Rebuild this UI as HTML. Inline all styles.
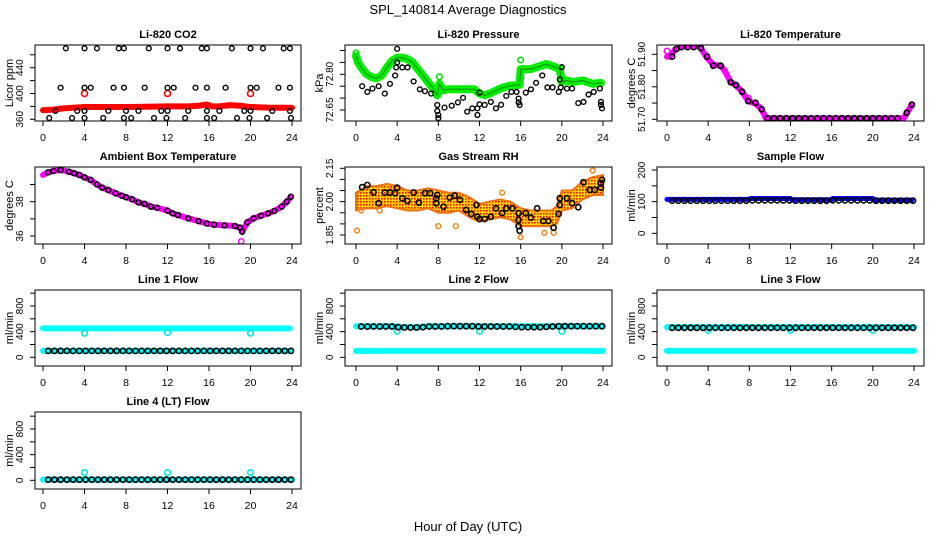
<!DOCTYPE html>
<html><head><meta charset="utf-8"><style>
html,body{margin:0;padding:0;background:#fff;}
svg{display:block;font-family:"Liberation Sans",Arial,sans-serif;}
</style></head><body>
<svg id="c" width="936" height="540" viewBox="0 0 936 540" xmlns="http://www.w3.org/2000/svg">
<defs>
<pattern id="rhpat" width="3" height="3" patternUnits="userSpaceOnUse">
<rect width="3" height="3" fill="#ffd400"/><rect width="1.6" height="1.6" fill="#f01010"/>
</pattern>
</defs>
<text x="468" y="14" font-size="13" text-anchor="middle">SPL_140814  Average Diagnostics</text>
<text x="468" y="531" font-size="13" text-anchor="middle">Hour of Day (UTC)</text>
</svg>
<script>
// ---- data ----
const xTicks=[0,4,8,12,16,20,24];
// CO2
const co2BandT=[0,1,2,4,6,8,10,12,14,15,15.8,16.3,17,18,19,20,22,24];
const co2BandV=[374,375,377,379,379,379,379.5,380,380,381,383,380,380,382,381,379,378,378];
const co2RedOutT=[4,12,20];
const co2RedOutV=[400,400,400];
const co2BlackT=[2.2,4,5.2,7.3,7.8,10.2,12,13.2,15.3,15.8,18.2,20,21.2,23.2,23.8,
 1.7,4,4.6,6.8,7.8,9.8,12,12.6,14.7,15.8,17.6,20,20.6,22.7,23.8,
 1.2,3.3,4,6.3,8,9.2,11.4,12,14,15.8,17,19.4,20,22.1,23.8,
 0.6,2.8,4,5.8,7.8,8.5,10.7,11.9,13.7,15.8,16.5,18.7,19.9,21.6,23.9];
const co2BlackV=[470,470,470,470,470,470,470,470,470,470,470,470,470,470,470,
 409,409,409,409,409,409,409,409,409,409,409,409,409,409,409,
 373,373,373,373,373,373,373,373,373,373,373,373,373,373,373,
 362,362,362,362,362,362,362,362,362,362,362,362,362,362,362];
// Pressure
const prT=[0,0.2,0.5,1,1.5,2,2.5,3,3.5,4,4.5,5,5.5,6,6.5,7,7.5,7.9,8.1,8.5,9,10,11,11.5,12,12.5,13,14,15,15.9,16,17,18,18.5,19,19.8,20,20.5,21,22,23,23.8];
const prV=[72.877,72.85,72.829,72.802,72.788,72.783,72.795,72.829,72.857,72.870,72.870,72.864,72.850,72.822,72.795,72.767,72.740,72.712,72.760,72.733,72.737,72.737,72.737,72.737,72.719,72.712,72.719,72.740,72.753,72.756,72.822,72.822,72.836,72.843,72.836,72.822,72.767,72.774,72.767,72.774,72.76,72.764];
const prGreenOutT=[0,16,8.1];
const prGreenOutV=[72.89,72.86,72.79];
const prBlackT=[0.6,1.1,1.6,2.2,2.8,3.3,3.8,3.9,4,4,4.5,5,5.6,6.2,6.7,7.3,7.9,7.9,8,8,8.6,9.3,9.9,10.4,10.8,11.3,11.8,11.8,12,12,12.5,13.1,13.6,14.1,14.6,15.1,15.6,15.8,15.8,15.9,16.5,17,17.5,18.1,18.6,19.1,19.7,19.8,20,19.9,20.5,21,21.6,22.1,22.6,23.1,23.7,23.8,23.8,23.9];
const prBlackV=[72.750,72.726,72.740,72.750,72.719,72.760,72.795,72.829,72.850,72.907,72.829,72.829,72.770,72.737,72.729,72.719,72.671,72.646,72.629,72.616,72.660,72.668,72.682,72.701,72.643,72.657,72.657,72.629,72.723,72.674,72.671,72.684,72.657,72.672,72.709,72.726,72.726,72.698,72.682,72.671,72.723,72.737,72.764,72.795,72.745,72.745,72.726,72.778,72.830,72.745,72.740,72.740,72.679,72.684,72.715,72.726,72.740,72.684,72.671,72.657];
// Li-820 temperature
const ltT=[0,0.3,0.8,1.5,3,3.3,3.8,4.5,5.2,5.6,6.2,6.7,7.3,7.9,8.6,9.2,9.6,23,23.3,23.8];
const ltV=[51.893,51.893,51.916,51.925,51.925,51.919,51.893,51.868,51.865,51.85,51.814,51.805,51.785,51.756,51.748,51.731,51.703,51.703,51.72,51.745];
const ltPinkOutT=[0,7.9];
const ltPinkOutV=[51.91,51.765];
const ltBlackT=[0.5,0.9,1.4,2,2.6,3.3,3.9,4.5,5.2,6.2,6.7,7.3,7.9,8.6,9.2,9.8,10.4,11,11.6,12.2,12.8,13.4,14,14.6,15.2,15.8,16.4,17,17.6,18.2,18.8,19.4,20,20.6,21.2,21.8,22.4,23.3,23.8];
const ltBlackV=[51.893,51.916,51.922,51.922,51.922,51.919,51.893,51.865,51.865,51.814,51.805,51.785,51.756,51.751,51.731,51.703,51.703,51.703,51.703,51.703,51.703,51.703,51.703,51.703,51.703,51.703,51.703,51.703,51.703,51.703,51.703,51.703,51.703,51.703,51.703,51.703,51.703,51.72,51.745];
// Ambient box temperature
const abT=[0,0.5,1,1.7,2.5,3,3.5,4,4.6,5.2,5.7,6.3,7,7.6,8,8.6,9.2,9.8,10.4,11,12,12.5,13,14,15,15.8,16.5,17.5,18.5,19,19.2,19.7,20.3,21,21.7,22.3,23,23.5,23.9];
const abV=[39.56,39.71,39.79,39.85,39.75,39.66,39.56,39.42,39.27,39.01,38.82,38.68,38.49,38.35,38.26,38.14,37.96,37.87,37.71,37.65,37.48,37.32,37.22,37.03,36.87,36.73,36.66,36.62,36.58,36.49,36.25,36.80,37.03,37.18,37.32,37.46,37.71,38.0,38.29];
const abPinkOutT=[19.1];
const abPinkOutV=[35.69];
// Gas stream RH
const rhT=[0,1,2,3,4,5,6,7,8,9,10,11,12,13,14,15,16,17,18,19,19.5,20,21,22,23,24];
const rhUp=[2.04,2.07,2.07,2.08,2.07,2.05,2.05,2.06,2.05,2.04,2.04,2.02,1.99,2.00,2.01,2.00,1.97,1.96,1.96,1.96,1.98,2.05,2.05,2.09,2.11,2.12];
const rhLo=[1.96,1.97,1.97,1.98,1.97,1.96,1.96,1.97,1.95,1.95,1.96,1.93,1.91,1.92,1.93,1.92,1.89,1.89,1.89,1.89,1.90,1.96,1.97,2.01,2.03,2.03];
const rhOutT=[0.1,0.5,2.3,8,9.7,14.2,16,18.3,19.2,23,3.4];
const rhOutV=[1.87,1.96,1.96,1.89,1.89,2.04,1.84,1.86,1.86,2.14,2.05];
const rhBlackT=[0.6,1.1,1.7,2.2,2.8,3.3,3.8,4,4.5,5,5.6,6.1,6.7,7.2,7.8,7.9,7.8,8.5,9.1,9.6,10.1,10.7,11.2,11.7,11.8,12,12.5,13.1,13.6,14.2,14.6,15.2,15.8,15.8,15.8,15.9,16.5,17,17.6,18.2,18.7,19.2,19.7,19.8,19.8,20.5,21,21.6,22.1,22.7,23.2,23.8,23.8,23.9];
const rhBlackV=[2.065,2.075,2.042,1.993,2.041,2.041,2.038,2.063,2.015,2.003,2.041,1.996,2.038,2.038,2.015,2.030,1.993,1.977,2.018,2.027,2.008,1.963,1.945,1.985,1.932,1.922,1.922,1.932,1.970,1.948,1.970,1.970,1.948,1.918,1.890,1.869,1.948,1.928,1.970,1.913,1.913,1.883,1.945,1.985,2.015,2.015,1.993,1.975,2.087,2.053,2.053,2.063,2.083,2.098];
// Flows
const flowT=[0.5,1.1,1.7,2.3,2.9,3.5,4.1,4.7,5.3,5.9,6.5,7.1,7.7,8.3,8.9,9.5,10.1,10.7,11.3,11.9,12.5,13.1,13.7,14.3,14.9,15.5,16.1,16.7,17.3,17.9,18.5,19.1,19.7,20.3,20.9,21.5,22.1,22.7,23.3,23.9];
const sfBlackV=[103,103,103,103,103,103,103,103,103,103,103,103,103,104,104,104,104,104,104,104,103,103,103,103,103,103,104,104,104,104,104,104,104,103,103,103,103,103,103,103];
const sfBlueT=[0,8,8.1,12,12.1,16,16.1,20,20.1,23.8];
const sfBlueV=[107,107,110,110,106,106,110,110,105,105];
const l1BlackV=[100,100,100,100,100,100,100,100,100,100,100,100,100,100,100,100,100,100,100,100,100,100,100,100,100,100,100,100,100,100,100,100,100,100,100,100,100,100,100,100];
const l1CyanT=[0,23.8];
const l1CyanHi=[452,452];
const l1CyanLo=[100,100];
const l1CyanOutT=[4,12,20];
const l1CyanOutV=[375,385,375];
const l2BlackV=[480,480,480,480,480,480,470,465,465,465,470,480,480,480,485,485,485,485,485,480,480,480,480,480,480,475,470,470,470,470,475,480,485,485,485,485,485,485,485,485];
const l2CyanT=[0,4,4.1,6.5,6.6,24];
const l2CyanHi=[485,485,470,470,485,485];
const l2CyanLo=[100,100,100,100,100,100];
const l2CyanOutT=[4,12,20];
const l2CyanOutV=[405,405,405];
const l3BlackV=[460,460,460,460,460,460,460,460,460,460,460,460,460,460,460,460,460,460,460,460,460,460,460,460,460,460,460,460,460,460,460,460,460,460,460,460,460,460,460,460];
const l3CyanT=[0,24];
const l3CyanHi=[470,470];
const l3CyanLo=[100,100];
const l3CyanOutT=[4,12,20];
const l3CyanOutV=[420,420,420];
const l4BlackV=[10,10,10,10,10,10,10,10,10,10,10,10,10,10,10,10,10,10,10,10,10,10,10,10,10,10,10,10,10,10,10,10,10,10,10,10,10,10,10,10];
const l4CyanT=[0,24];
const l4CyanV=[10,10];
const l4CyanOutT=[4,12,20];
const l4CyanOutV=[120,120,120];

// ---- layout ----
const NS='http://www.w3.org/2000/svg';
const svg=document.getElementById('c');
const boxL=[35,345,657], boxR=[301,612,924], px0=[43,356,667], px24=[292,603,914];
const rowT=[45,167,290,412], rowB=[121,244,366,489];
function mk(tag,attrs,parent){const e=document.createElementNS(NS,tag);for(const k in attrs)e.setAttribute(k,attrs[k]);(parent||svg).appendChild(e);return e;}

function panel(col,row,name,title,ylab,ticks,labels,labelText,ref){
  const g=mk('g',{});
  
  
  const L=boxL[col],R=boxR[col],T=rowT[row],B=rowB[row];
  const X=t=>px0[col]+(px24[col]-px0[col])*t/24;
  const Y=v=>ref[1]+(v-ref[0])*(ref[3]-ref[1])/(ref[2]-ref[0]);
  const cp='cp'+col+row;
  const c=mk('clipPath',{id:cp},g);mk('rect',{x:L,y:T,width:R-L,height:B-T},c);
  const plot=mk('g',{'clip-path':'url(#'+cp+')'},g);
  const box=mk('rect',{x:L,y:T,width:R-L,height:B-T,fill:'none',stroke:'#000','stroke-width':1},g);
  
  
  const tt=mk('text',{x:(L+R)/2,y:T-7,'font-size':11,'font-weight':'bold','text-anchor':'middle'},g);
  tt.textContent=title;
  
  
  const yl=mk('text',{transform:`translate(${L-22},${(T+B)/2}) rotate(-90)`,'font-size':11,'text-anchor':'middle'},g);
  yl.textContent=ylab;
  
  
  xTicks.forEach(t=>{
    mk('line',{x1:X(t),x2:X(t),y1:B,y2:B+5,stroke:'#000'},g);
    const tx=mk('text',{x:X(t),y:B+20,'font-size':10.5,'text-anchor':'middle'},g);
    tx.textContent=t;
    
    
  });
  ticks.forEach(v=>{
    const y=Y(v); if(y<T-0.5||y>B+0.5) return;
    mk('line',{x1:L,x2:L-5,y1:y,y2:y,stroke:'#000'},g);
  });
  labels.forEach((v,i)=>{
    const ty=mk('text',{transform:`translate(${L-12},${Y(v)}) rotate(-90)`,'font-size':10,'text-anchor':'middle'},g);
    ty.textContent=labelText[i];
    
    
  });
  return {
    line(ts,vs,color,w,nm){const p=mk('polyline',{points:ts.map((t,i)=>X(t)+','+Y(vs[i])).join(' '),fill:'none',stroke:color,'stroke-width':w,'stroke-linejoin':'round','stroke-linecap':'round'},plot);
      
      },
    band(ts,up,lo,fill,nm){const pts=ts.map((t,i)=>X(t)+','+Y(up[i])).concat(ts.map((t,i)=>X(t)+','+Y(lo[i])).reverse());
      const p=mk('polygon',{points:pts.join(' '),fill:fill,stroke:'#f07010','stroke-width':2,'stroke-linejoin':'round'},plot);
      
      },
    pts(ts,vs,color,nm,r,sw){ts.forEach((t,i)=>{const e=mk('circle',{cx:X(t),cy:Y(vs[i]),r:r||2.6,fill:'none',stroke:color,'stroke-width':sw||1.4},plot);
      
      });}
  };
}

let p;
p=panel(0,0,'co2','Li-820 CO2','Licor ppm',[360,380,400,420,440,460],[360,400,440],['360','400','440'],[360,119.3,440,67.7]);
p.line(co2BandT,co2BandV,'#ff0000',6,'co2-red-series');
p.pts(co2RedOutT,co2RedOutV,'#ff0000','co2-red-point',3,1.6);
p.pts(co2BlackT,co2BlackV,'#000','co2-black-point',2.4,1.4);

p=panel(1,0,'pressure','Li-820 Pressure','kPa',[72.65,72.70,72.75,72.80,72.85,72.90],[72.65,72.80],['72.65','72.80'],[72.65,110,72.80,74.3]);
p.line(prT,prV,'#00ee00',8,'pressure-green-series');
p.line(prT,prV,'#1a8a1a',1,'pressure-green-core');
p.pts(prGreenOutT,prGreenOutV,'#00dd00','pressure-green-point',2.8,1.5);
p.pts(prBlackT,prBlackV,'#000','pressure-black-point',2.4,1.4);

p=panel(2,0,'li820-temp','Li-820 Temperature','degrees C',[51.70,51.75,51.80,51.85,51.90],[51.70,51.80,51.90],['51.70','51.80','51.90'],[51.70,119.3,51.90,54.3]);
p.line(ltT,ltV,'#ff00ff',6,'li820-temp-pink-series');
p.pts(ltPinkOutT,ltPinkOutV,'#ff00ff','li820-temp-pink-point',2.8,1.5);
p.pts(ltBlackT,ltBlackV,'#000','li820-temp-black-point',2.6,1.6);

p=panel(0,1,'ambient','Ambient Box Temperature','degrees C',[36,37,38,39],[36,38],['36','38'],[36,236,38,201.7]);
p.line(abT,abV,'#ff00ff',6,'ambient-pink-series');
p.pts(abPinkOutT,abPinkOutV,'#ff00ff','ambient-pink-point',2.6,1.5);
p.pts(abT.slice(1),abV.slice(1),'#000','ambient-black-point',2.5,1.5);

p=panel(1,1,'rh','Gas Stream RH','percent',[1.85,1.90,1.95,2.00,2.05,2.10,2.15],[1.85,2.00,2.15],['1.85','2.00','2.15'],[1.85,235,2.15,168.3]);
p.band(rhT,rhUp,rhLo,'url(#rhpat)','rh-band');
p.pts(rhOutT,rhOutV,'#f08010','rh-orange-point',2.4,1.4);
p.pts(rhBlackT,rhBlackV,'#000','rh-black-point',2.6,1.6);

p=panel(2,1,'sample-flow','Sample Flow','ml/min',[0,50,100,150,200],[0,100,200],['0','100','200'],[0,233.3,200,170]);
p.line(sfBlueT,sfBlueV,'#0000ff',5,'sample-flow-blue-series');
p.pts(flowT,sfBlackV,'#000','sample-flow-black-point',2.6,1.6);

const fT=[0,200,400,600,800,1000], fL=[0,400,800], fLT=['0','400','800'];
p=panel(0,2,'line1','Line 1 Flow','ml/min',fT,fL,fLT,[0,357.3,800,306]);
p.line(l1CyanT,l1CyanHi,'#00ffff',6,'line1-cyan-high');
p.line(l1CyanT,l1CyanLo,'#00ffff',6,'line1-cyan-low');
p.pts(l1CyanOutT,l1CyanOutV,'#00e5e5','line1-cyan-point',2.8,1.6);
p.pts(flowT,l1BlackV,'#000','line1-black-point',2.6,1.6);

p=panel(1,2,'line2','Line 2 Flow','ml/min',fT,fL,fLT,[0,357.3,800,306]);
p.line(l2CyanT,l2CyanHi,'#00ffff',6,'line2-cyan-high');
p.line(l2CyanT,l2CyanLo,'#00ffff',6,'line2-cyan-low');
p.pts(l2CyanOutT,l2CyanOutV,'#00e5e5','line2-cyan-point',2.8,1.6);
p.pts(flowT,l2BlackV,'#000','line2-black-point',2.6,1.6);

p=panel(2,2,'line3','Line 3 Flow','ml/min',fT,fL,fLT,[0,357.3,800,306]);
p.line(l3CyanT,l3CyanHi,'#00ffff',6,'line3-cyan-high');
p.line(l3CyanT,l3CyanLo,'#00ffff',6,'line3-cyan-low');
p.pts(l3CyanOutT,l3CyanOutV,'#00e5e5','line3-cyan-point',2.8,1.6);
p.pts(flowT,l3BlackV,'#000','line3-black-point',2.6,1.6);

p=panel(0,3,'line4','Line 4 (LT) Flow','ml/min',fT,fL,fLT,[0,480.3,800,429]);
p.line(l4CyanT,l4CyanV,'#00ffff',6,'line4-cyan-series');
p.pts(l4CyanOutT,l4CyanOutV,'#00e5e5','line4-cyan-point',2.8,1.6);
p.pts(flowT,l4BlackV,'#000','line4-black-point',2.6,1.6);
</script>
</body></html>
